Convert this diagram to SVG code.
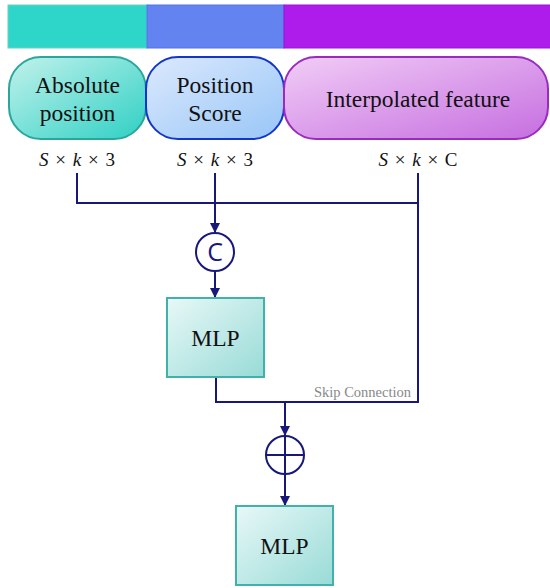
<svg xmlns="http://www.w3.org/2000/svg" width="550" height="588" viewBox="0 0 550 588">
<defs>
<linearGradient id="gTeal" x1="0" y1="0" x2="1" y2="1"><stop offset="0" stop-color="#c2f2ec"/><stop offset="1" stop-color="#2fd0c4"/></linearGradient>
<linearGradient id="gBlue" x1="0" y1="0" x2="1" y2="1"><stop offset="0" stop-color="#dce9fd"/><stop offset="1" stop-color="#98c6f7"/></linearGradient>
<linearGradient id="gPurp" x1="0" y1="0" x2="1" y2="1"><stop offset="0" stop-color="#f1cdf6"/><stop offset="1" stop-color="#c66ee0"/></linearGradient>
<linearGradient id="gMlp" x1="0" y1="0" x2="1" y2="1"><stop offset="0" stop-color="#e8f8f7"/><stop offset="1" stop-color="#98dbd7"/></linearGradient>
<marker id="arr" markerWidth="10" markerHeight="10" refX="9" refY="5" orient="auto" markerUnits="userSpaceOnUse"><path d="M0,0 L10,5 L0,10 z" fill="#17187a"/></marker>
</defs>
<style>
text{font-family:'Liberation Serif','DejaVu Serif',serif}
.lbl{font-size:23.5px;fill:#111;text-anchor:middle}
.math{font-size:19px;fill:#111;text-anchor:middle;word-spacing:2px}
.it{font-style:italic}
.ln{stroke:#17187a;stroke-width:2;fill:none}
.op{stroke:#17187a;stroke-width:2;fill:#fff}
.mlp{fill:url(#gMlp);stroke:#3fb3ab;stroke-width:2}
</style>
<g id="bar">
<rect x="8" y="5" width="139" height="43" fill="#2ed6ca" stroke="#6ccfc6" stroke-width="1"/>
<rect x="147" y="5" width="137" height="43" fill="#6384f0" stroke="#5273ea" stroke-width="1"/>
<rect x="284" y="5" width="270" height="43" fill="#ad1ceb" stroke="#9a14d6" stroke-width="1"/>
</g>
<g id="abs">
<rect x="9" y="57" width="137" height="82" rx="32" fill="url(#gTeal)" stroke="#2aa69c" stroke-width="2"/>
<text class="lbl" x="77.5" y="93">Absolute</text>
<text class="lbl" x="77.5" y="121">position</text>
</g>
<g id="pos">
<rect x="146" y="57" width="138" height="82" rx="32" fill="url(#gBlue)" stroke="#1236cc" stroke-width="2"/>
<text class="lbl" x="215" y="93">Position</text>
<text class="lbl" x="215" y="121">Score</text>
</g>
<g id="interp">
<rect x="284" y="57" width="264" height="82" rx="32" fill="url(#gPurp)" stroke="#9b2bbf" stroke-width="2"/>
<text class="lbl" x="418" y="107">Interpolated feature</text>
</g>
<g id="dims">
<text class="math" x="77" y="166"><tspan class="it">S</tspan> × <tspan class="it">k</tspan> × 3</text>
<text class="math" x="215" y="166"><tspan class="it">S</tspan> × <tspan class="it">k</tspan> × 3</text>
<text class="math" x="418" y="166"><tspan class="it">S</tspan> × <tspan class="it">k</tspan> × C</text>
</g>
<g id="connectors">
<polyline class="ln" points="77,173 77,203 418,203"/>
<line class="ln" x1="215" y1="173" x2="215" y2="232" marker-end="url(#arr)"/>
<line class="ln" x1="418" y1="173" x2="418" y2="403"/>
<line class="ln" x1="215" y1="271" x2="215" y2="297" marker-end="url(#arr)"/>
<polyline class="ln" points="216,377 216,402 418,402"/>
<line class="ln" x1="285" y1="402" x2="285" y2="435" marker-end="url(#arr)"/>
<line class="ln" x1="285" y1="474" x2="285" y2="505" marker-end="url(#arr)"/>
</g>
<g id="concat">
<circle class="op" cx="215" cy="252" r="19"/>
<text x="215" y="261" style="font-family:'Open Sans','DejaVu Sans',sans-serif" font-size="25" fill="#17187a" text-anchor="middle">C</text>
</g>
<g id="mlp1">
<rect class="mlp" x="167" y="298" width="97" height="79"/>
<text class="lbl" x="215.5" y="346">MLP</text>
</g>
<text x="411" y="397" font-size="14.5" fill="#888" text-anchor="end">Skip Connection</text>
<g id="add">
<circle class="op" cx="285" cy="455" r="19"/>
<line class="ln" x1="266" y1="455" x2="304" y2="455"/>
<line class="ln" x1="285" y1="436" x2="285" y2="474"/>
</g>
<g id="mlp2">
<rect class="mlp" x="236" y="506" width="97" height="79"/>
<text class="lbl" x="284.5" y="554">MLP</text>
</g>
</svg>
